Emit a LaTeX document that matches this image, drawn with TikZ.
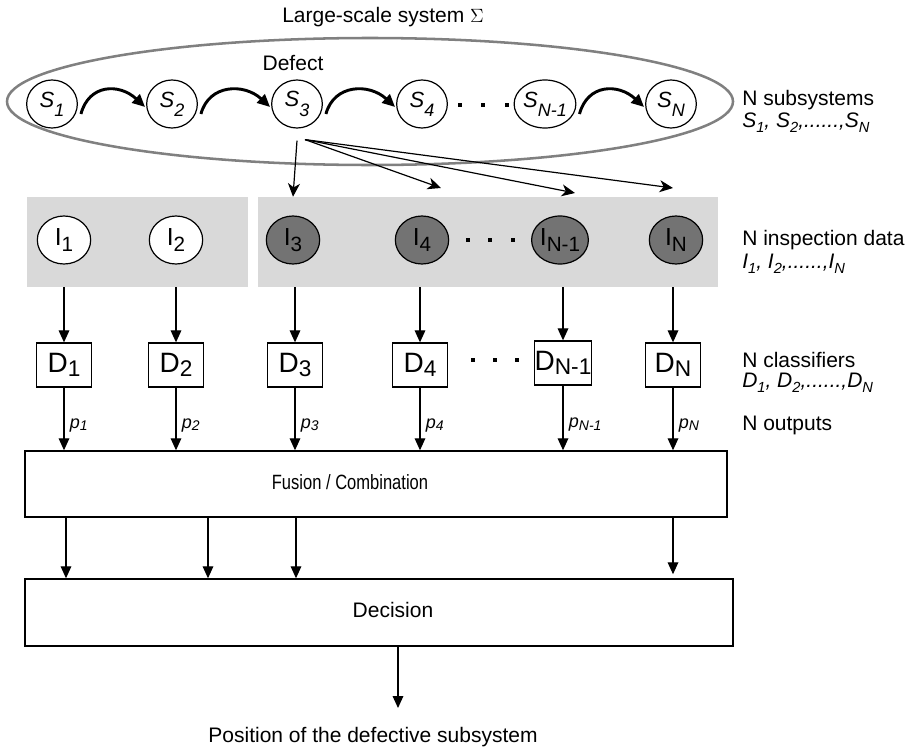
\documentclass[tikz,border=0pt]{standalone}
\usepackage{fontspec}
\setmainfont{Liberation Sans}
\usetikzlibrary{arrows.meta,shapes.geometric,calc}
\definecolor{grpfill}{HTML}{D9D9D9}
\definecolor{darkfill}{HTML}{737373}
\definecolor{ellc}{HTML}{808080}
\newcommand\fs[1]{\fontsize{#1}{#1}\selectfont}
\newcommand\sbs[3]{\raisebox{#1}{\fs{#2}#3}}
\newcommand\Slab[1]{{\fs{16.5}\itshape S\sbs{-7pt}{13.5}{#1}}}
\newcommand\Ilab[1]{{\fs{18.5}I\sbs{-5pt}{15.5}{#1}}}
\newcommand\Dlab[1]{{\fs{21}D\sbs{-3pt}{17}{#1}}}
\newcommand\Plab[1]{{\fs{13.5}\itshape p\sbs{-2pt}{10.5}{#1}}}
\newcommand\Rsub[2]{#1\sbs{-4pt}{11}{#2}}
\begin{document}
\begin{tikzpicture}[x=0.75pt,y=-0.75pt,
  every node/.style={font=\fs{15.75}},
  sysnode/.style={ellipse, draw, line width=0.9pt, minimum width=38pt, minimum height=36pt, inner sep=0pt, fill=white},
  inspnode/.style={ellipse, draw, line width=0.9pt, minimum width=40pt, minimum height=36pt, inner sep=0pt},
  clfnode/.style={rectangle, draw, line width=1pt, minimum width=41pt, minimum height=33pt, inner sep=0pt, fill=white},
  grpbox/.style={rectangle, fill=grpfill, inner sep=0pt},
  bigbox/.style={rectangle, draw, line width=1.1pt, inner sep=0pt},
  arr/.style={line width=0.9pt, -{Triangle[length=9pt,width=8pt]}},
  fan/.style={line width=0.9pt, -{Stealth[length=10pt,width=9pt,inset=3pt]}},
  flow/.style={line width=2.2pt, -{Triangle[length=9.5pt,width=8.5pt]}},
  dotsq/.style={rectangle, fill=black, minimum size=3.5pt, inner sep=0pt},
  rlab/.style={anchor=west, inner sep=0pt},
  plab/.style={anchor=west, inner sep=0pt, xshift=4pt},
]
\path[use as bounding box] (0,0) rectangle (911,753);

% title and system ellipse
\node (title) at (383,17) {Large-scale system $\Sigma$};
\node[ellipse, draw=ellc, line width=1.9pt, minimum width=544.5pt, minimum height=95.25pt, inner sep=0pt] (sys) at (370,101.5) {};
\node (defect) at (293,63) {Defect};

% subsystems
\node[sysnode] (S1) at (52,104) {\Slab{1}};
\node[sysnode] (S2) at (172,104) {\Slab{2}};
\node[sysnode] (S3) at (297,104) {\Slab{3}};
\node[sysnode] (S4) at (422,104) {\Slab{4}};
\node[sysnode] (SN1) at (545,104) {\Slab{N-1}};
\node[sysnode] (SN) at (671,104) {\Slab{N}};
\node[dotsq] (sd1) at (460,105) {};
\node[dotsq] (sd2) at (483,105) {};
\node[dotsq] (sd3) at (507,105) {};

\foreach \a/\b in {S1/S2,S2/S3,S3/S4,SN1/SN}{
  \draw[flow] ($(\a.east)+(3,10)$) .. controls +(8,-30) and +(-26,-24) .. ($(\b.west)+(-1,3)$);
}

% gray groups
\node[grpbox, minimum width=165.75pt, minimum height=67.5pt] (g1) at (137.5,242) {};
\node[grpbox, minimum width=345pt, minimum height=67.5pt] (g2) at (488,242) {};

% inspection data
\node[inspnode, fill=white] (I1) at (64,240) {\Ilab{1}};
\node[inspnode, fill=white] (I2) at (176,240) {\Ilab{2}};
\node[inspnode, fill=darkfill] (I3) at (293,240) {\Ilab{3}};
\node[inspnode, fill=darkfill] (I4) at (422,240) {\Ilab{4}};
\node[inspnode, fill=darkfill] (IN1) at (560,240) {\Ilab{N-1}};
\node[inspnode, fill=darkfill] (IN) at (676,240) {\Ilab{N}};
\node[dotsq] (id1) at (468,240) {};
\node[dotsq] (id2) at (490,240) {};
\node[dotsq] (id3) at (513,240) {};

% fan arrows from S3
\coordinate (s3v) at ($(S3.south)+(0,12)$);
\coordinate (s3f) at ($(S3.south)+(8,11)$);
\coordinate (t4) at (441,188);
\coordinate (tN1) at (575,193);
\coordinate (tN) at (673,188);
\draw[fan] (s3v) -- (I3 |- g2.north);
\draw[fan] (s3f) -- (t4);
\draw[fan] (s3f) -- (tN1);
\draw[fan] (s3f) -- (tN);

% classifiers
\node[clfnode] (D1) at (64,365) {\Dlab{1}};
\node[clfnode] (D2) at (176,365) {\Dlab{2}};
\node[clfnode] (D3) at (295,365) {\Dlab{3}};
\node[clfnode] (D4) at (420,365) {\Dlab{4}};
\node[clfnode] (DN1) at (563,363) {\Dlab{N-1}};
\node[clfnode] (DN) at (673,365) {\Dlab{N}};
\node[dotsq] (dd1) at (473,360) {};
\node[dotsq] (dd2) at (495,360) {};
\node[dotsq] (dd3) at (517,360) {};

\foreach \d/\g in {D1/g1,D2/g1,D3/g2,D4/g2,DN1/g2,DN/g2}{
  \draw[arr] (\d |- \g.south) -- (\d.north);
}

% fusion and decision
\node[bigbox, minimum width=526.5pt, minimum height=49.5pt] (F) at (376,484) {};
\node[inner sep=0pt] (Ftxt) at (350,482) {\scalebox{0.8}[1]{\fs{15.5}Fusion / Combination}};
\node[bigbox, minimum width=531pt, minimum height=50.25pt] (Dec) at (379,612.5) {};
\node[inner sep=0pt] (Dtxt) at (393,610) {Decision};

\draw[arr] (D1.south) -- node[plab, pos=0.6] {\Plab{1}} (D1.south |- F.north);
\draw[arr] (D2.south) -- node[plab, pos=0.6] {\Plab{2}} (D2.south |- F.north);
\draw[arr] (D3.south) -- node[plab, pos=0.6] {\Plab{3}} (D3.south |- F.north);
\draw[arr] (D4.south) -- node[plab, pos=0.6] {\Plab{4}} (D4.south |- F.north);
\draw[arr] (DN1.south) -- node[plab, pos=0.6] {\Plab{N-1}} (DN1.south |- F.north);
\draw[arr] (DN.south) -- node[plab, pos=0.6] {\Plab{N}} (DN.south |- F.north);

\coordinate (c1) at (66,0);
\coordinate (c2) at (208,0);
\coordinate (c3) at (296,0);
\coordinate (c4) at (673,0);
\draw[arr] (F.south -| c1) -- (Dec.north -| c1);
\draw[arr] (F.south -| c2) -- (Dec.north -| c2);
\draw[arr] (F.south -| c3) -- (Dec.north -| c3);
\draw[arr] (F.south -| c4) -- ($(Dec.north -| c4)+(0,-4)$);

\coordinate (outc) at (398,708);
\draw[arr] (Dec.south -| outc) -- (outc);
\node (pos) at (373,737) {Position of the defective subsystem};

% right-hand labels
\node[rlab] (r1) at (742,100) {N subsystems};
\node[rlab] (r1b) at (742,123) {\itshape \Rsub{S}{1}, \Rsub{S}{2},......,\Rsub{S}{N}};
\node[rlab] (r2) at (742,240) {N inspection data};
\node[rlab] (r2b) at (742,264) {\itshape \Rsub{I}{1}, \Rsub{I}{2},......,\Rsub{I}{N}};
\node[rlab] (r3) at (742,360) {N classifiers};
\node[rlab] (r3b) at (742,383) {\itshape \Rsub{D}{1}, \Rsub{D}{2},......,\Rsub{D}{N}};
\node[rlab] (r4) at (742,425) {N outputs};
\end{tikzpicture}
\end{document}
